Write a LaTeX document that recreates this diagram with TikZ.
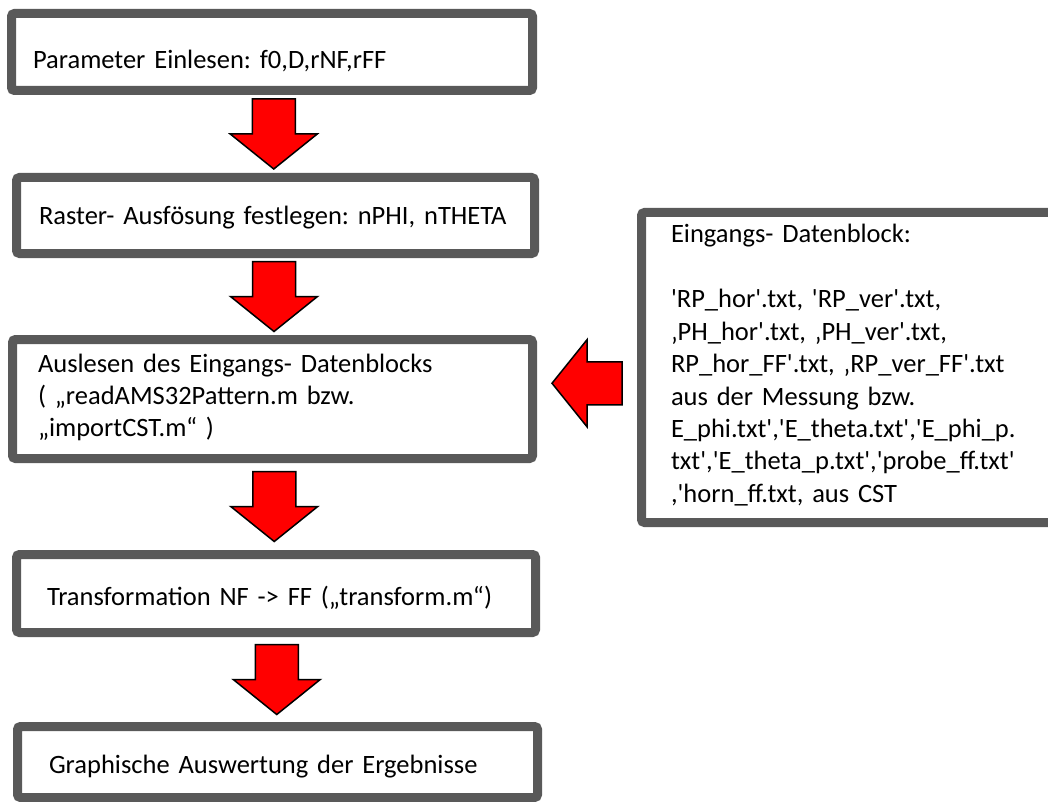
\documentclass[tikz,border=0pt]{standalone}
\usepackage{fontspec}
\newfontfamily\flowfont{Carlito}
\usetikzlibrary{calc}
\definecolor{boxgray}{HTML}{595959}
\definecolor{arrowred}{HTML}{FF0000}
\tikzset{
  stage/.style={draw=boxgray, line width=9pt, rounded corners=3pt, fill=white,
    align=left, inner ysep=0pt, font=\flowfont\fontsize{26.5}{32.4}\selectfont\frenchspacing},
  arrowfill/.style={fill=arrowred, draw=black, line width=1.5pt, line join=miter},
  bigarrow/.pic={
    \path[arrowfill] (-21.5,-35) -- (21.5,-35) -- (21.5,0) -- (43.5,0) -- (0,35)
      -- (-43.5,0) -- (-21.5,0) -- cycle;
  }
}
\begin{document}
\begin{tikzpicture}[x=1pt,y=-1pt]
\useasboundingbox (0,0) rectangle (1048,802);
\node[stage, text width=478pt, inner xsep=21.5pt, text height=55.5pt, text depth=21.5pt] (b1) at (272,52) {Parameter Einlesen: f0,D,rNF,rFF};
\node[stage, text width=473pt, inner xsep=22.5pt, text height=47.5pt, text depth=28.5pt] (b2) at (275.5,215.5) {Raster- Ausfösung festlegen: nPHI, nTHETA};
\node[stage, text width=469pt, inner xsep=25.5pt, text height=32.5pt, text depth=86.5pt] (b3) at (272.5,399) {Auslesen des Eingangs- Datenblocks\\( „readAMS32Pattern.m bzw.\\„importCST.m“ )};
\node[stage, text width=458pt, inner xsep=30.5pt, text height=50.5pt, text depth=27.5pt] (b4) at (276,593.5) {Transformation NF -> FF („transform.m“)};
\node[stage, text width=457pt, inner xsep=31.5pt, text height=46.5pt, text depth=24.5pt] (b5) at (277.5,762) {Graphische Auswertung der Ergebnisse};
\node[stage, text width=355.5pt, inner xsep=29.5pt, text height=30.5pt, text depth=279.5pt] (inp) at (848.75,367.5) {Eingangs- Datenblock:\\\mbox{}\\'RP\_hor'.txt, 'RP\_ver'.txt,\\‚PH\_hor'.txt, ‚PH\_ver'.txt,\\RP\_hor\_FF'.txt, ‚RP\_ver\_FF'.txt\\aus der Messung bzw.\\E\_phi.txt','E\_theta.txt','E\_phi\_p.\\txt','E\_theta\_p.txt','probe\_ff.txt'\\,'horn\_ff.txt, aus CST};
\pic at ($(b1.south)!.5!(b2.north)$) {bigarrow};
\pic at ($(b2.south)!.5!(b3.north)$) {bigarrow};
\pic at ($(b3.south)!.5!(b4.north)$) {bigarrow};
\pic at ($(b4.south)!.5!(b5.north)$) {bigarrow};
\pic[rotate=-90] at ($(b3.east)!.5!(inp.west)$) {bigarrow};
\end{tikzpicture}
\end{document}
